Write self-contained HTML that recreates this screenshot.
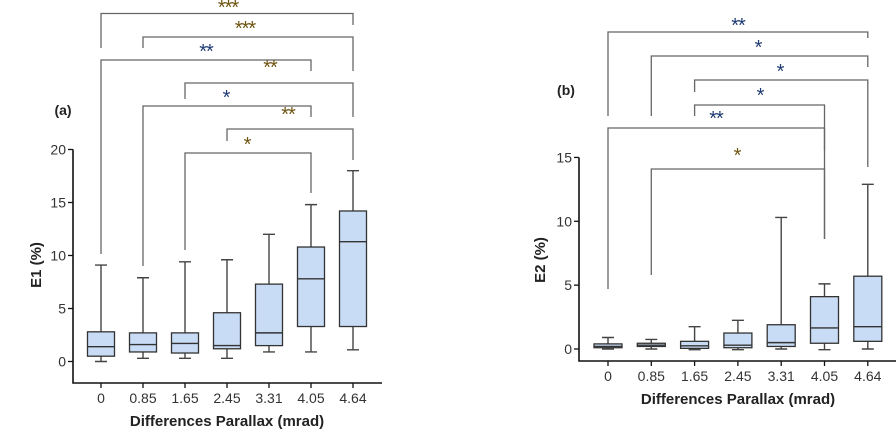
<!DOCTYPE html>
<html><head><meta charset="utf-8"><style>
body{margin:0;background:#fff;width:896px;height:436px;overflow:hidden}
svg{font-family:"Liberation Sans",Arial,sans-serif}
</style></head><body>
<svg id="c" width="896" height="436"></svg>
<script>
const categories=["0","0.85","1.65","2.45","3.31","4.05","4.64"];
// [min,q1,median,q3,max]
const e1Values=[[0,0.5,1.4,2.8,9.1],[0.3,0.9,1.6,2.7,7.9],[0.3,0.8,1.7,2.7,9.4],[0.3,1.2,1.5,4.6,9.6],[0.9,1.5,2.7,7.3,12],[0.9,3.3,7.8,10.8,14.8],[1.1,3.3,11.3,14.2,18]];
const e2Values=[[0,0.1,0.2,0.4,0.9],[0,0.2,0.3,0.45,0.75],[-0.05,0.05,0.25,0.6,1.75],[-0.05,0.1,0.3,1.25,2.25],[0,0.2,0.5,1.9,10.3],[-0.05,0.45,1.65,4.1,5.1],[0,0.6,1.75,5.7,12.9]];
const e1Ticks=[0,5,10,15,20];
const e2Ticks=[0,5,10,15];
// brackets: [fromIdx,toIdx,label]
const e1Brackets=[[0,6,"***"],[1,6,"***"],[0,5,"**"],[2,6,"**"],[1,5,"*"],[3,6,"**"],[2,5,"*"]];
const e2Brackets=[[0,6,"**"],[1,6,"*"],[2,6,"*"],[2,5,"*"],[0,5,"**"],[1,5,"*"]];
const NS="http://www.w3.org/2000/svg";
const svg=document.getElementById('c');
function el(t,a,p){const e=document.createElementNS(NS,t);for(const k in a)e.setAttribute(k,a[k]);(p||svg).appendChild(e);return e;}
function panel(o){
  const g=el('g',{});
  
  
  const x=i=>o.x0+i*o.dx, y=v=>o.y0-v*o.py;
  o.brackets.forEach((b,k)=>{
    const bg=el('g',{},g);
    
    
    const L=o.blay[k];
    el('path',{d:`M${x(b[0])},${L[1]}V${L[0]}H${x(b[1])}V${L[2]}`,fill:'none',stroke:'#666','stroke-width':1.3},bg);
    const t=el('text',{x:L[3],y:L[4]+10,'font-size':20,fill:L[5],'text-anchor':'middle','letter-spacing':'-1'},bg);t.textContent=b[2];
  });
  const ax=el('path',{d:`M${o.ax},${y(o.ticks[o.ticks.length-1])}V${o.ab}H${o.ar}`,fill:'none',stroke:'#111','stroke-width':1.6},g);
  
  o.ticks.forEach(v=>{
    el('line',{x1:o.ax-5,x2:o.ax,y1:y(v),y2:y(v),stroke:'#111','stroke-width':1.3},g);
    const t=el('text',{x:o.ax-7,y:y(v)+5,'font-size':14,'text-anchor':'end',fill:'#333'},g);t.textContent=v;
    
  });
  categories.forEach((c,i)=>{
    el('line',{x1:x(i),x2:x(i),y1:o.ab,y2:o.ab+5,stroke:'#111','stroke-width':1.3},g);
    const t=el('text',{x:x(i),y:o.ab+20,'font-size':14,'text-anchor':'middle',fill:'#333'},g);t.textContent=c;
    
    const d=o.data[i],bx=el('g',{},g);
    
    const w=o.bw;
    el('path',{d:`M${x(i)},${y(d[0])}V${y(d[1])}M${x(i)},${y(d[3])}V${y(d[4])}M${x(i)-6},${y(d[0])}H${x(i)+6}M${x(i)-6},${y(d[4])}H${x(i)+6}`,stroke:'#444','stroke-width':1.4,fill:'none'},bx);
    el('rect',{x:x(i)-w/2,y:y(d[3]),width:w,height:Math.max(1,y(d[1])-y(d[3])),fill:'#c8dcf5',stroke:'#333','stroke-width':1.3},bx);
    el('line',{x1:x(i)-w/2,x2:x(i)+w/2,y1:y(d[2]),y2:y(d[2]),stroke:'#333','stroke-width':1.4},bx);
  });
  let t=el('text',{x:o.xc,y:o.ab+43,'font-size':15,'font-weight':'bold','text-anchor':'middle',fill:'#222'},g);t.textContent='Differences Parallax (mrad)';
  
  t=el('text',{x:0,y:0,'font-size':15,'font-weight':'bold','text-anchor':'middle',fill:'#222',transform:`translate(${o.yt[0]},${o.yt[1]}) rotate(-90)`},g);t.textContent=o.ytitle;
  
  t=el('text',{x:o.lab[0],y:o.lab[1],'font-size':14,'font-weight':'bold',fill:'#222','text-anchor':'middle'},g);t.textContent=o.label;
  
}
const G='#6e5410',B='#1f3b73';
panel({name:'panel-a',x0:101,dx:42,y0:361.5,py:10.6,ax:73,ab:383,ar:382,bw:27,ticks:e1Ticks,data:e1Values,
  brackets:e1Brackets,ytitle:'E1 (%)',yt:[41,265],lab:[63,115],label:'(a)',xc:227,
  blay:[[13.5,48,25,228,4,G],[37,48,71,245,25,G],[60,254,71,206,48,B],[83,99,117,270,64,G],[106,266,117,226,94,B],[129,141,160,288,111,G],[153,250,193,247,141,G]]});
panel({name:'panel-b',x0:608,dx:43.3,y0:349,py:12.77,ax:579,ab:361,ar:896,bw:28,ticks:e2Ticks,data:e2Values,
  brackets:e2Brackets,ytitle:'E2 (%)',yt:[545,260],lab:[566,95],label:'(b)',xc:738,
  blay:[[32,116,38,738,22,B],[56,116,67,758,44,B],[80,92,167,780,68,B],[105,116,239,760,92,B],[128,289,150,716,115,B],[169,275,239,737,152,G]]});
</script>
</body></html>
